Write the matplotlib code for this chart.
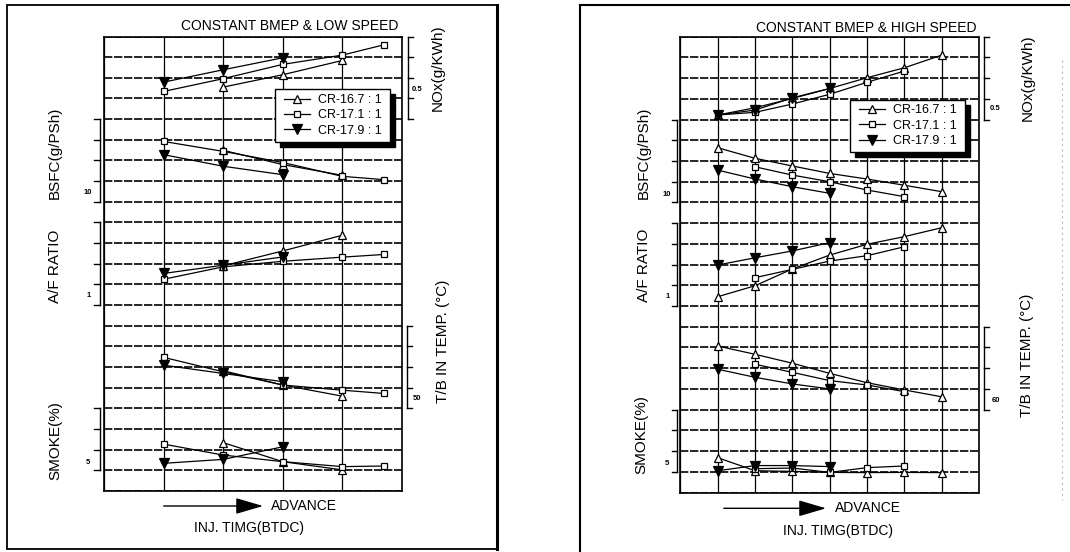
import matplotlib
matplotlib.use("Agg")
import matplotlib.pyplot as plt
import matplotlib.transforms as mtransforms
from matplotlib.lines import Line2D
from matplotlib.patches import Rectangle, FancyArrowPatch

plt.rcParams['font.family'] = ['Liberation Sans', 'DejaVu Sans']

# series names
cr_names = ['CR-16.7 : 1', 'CR-17.1 : 1', 'CR-17.9 : 1']

# ---- low speed panel (values in chart divisions) ----
low_x167 = [2, 3, 4]
low_x171 = [1, 2, 3, 4, 4.7]
low_x179 = [1, 2, 3]

low_nox167 = [19.55, 20.15, 20.84]
low_nox171 = [19.34, 19.96, 20.65, 21.10, 21.60]
low_nox179 = [19.79, 20.39, 20.97]

low_bsfc167 = [16.49, 15.80, 15.28]
low_bsfc171 = [16.92, 16.44, 15.90, 15.23, 15.07]
low_bsfc179 = [16.28, 15.72, 15.31]

low_af167 = [10.90, 11.62, 12.38]
low_af171 = [10.25, 10.85, 11.12, 11.32, 11.45]
low_af179 = [10.53, 10.93, 11.33]

low_tb167 = [5.82, 5.13, 4.59]
low_tb171 = [6.47, 5.77, 5.13, 4.88, 4.72]
low_tb179 = [6.09, 5.69, 5.29]

low_smk167 = [2.34, 1.42, 1.02]
low_smk171 = [2.27, 1.74, 1.42, 1.18, 1.21]
low_smk179 = [1.34, 1.53, 2.14]

# ---- high speed panel ----
high_x167 = [1, 2, 3, 4, 5, 6, 7]
high_x171 = [2, 3, 4, 5, 6]
high_x171_nox = [1, 2, 3, 4, 5, 6]
high_x179 = [1, 2, 3, 4]

high_nox167 = [18.22, 18.57, 19.02, 19.50, 20.02, 20.50, 21.11]
high_nox171 = [18.22, 18.35, 18.75, 19.22, 19.80, 20.34]
high_nox179 = [18.22, 18.46, 19.05, 19.50]

high_bsfc167 = [16.64, 16.13, 15.76, 15.40, 15.13, 14.83, 14.52]
high_bsfc171 = [15.72, 15.32, 15.00, 14.60, 14.28]
high_bsfc179 = [15.56, 15.13, 14.76, 14.44]

high_af167 = [9.45, 9.98, 10.79, 11.46, 11.98, 12.35, 12.78]
high_af171 = [10.37, 10.77, 11.17, 11.43, 11.86]
high_af179 = [10.98, 11.33, 11.66, 12.06]

high_tb167 = [7.07, 6.67, 6.24, 5.75, 5.30, 4.95, 4.62]
high_tb171 = [6.19, 5.80, 5.40, 5.19, 4.87]
high_tb179 = [5.95, 5.56, 5.24, 5.00]

high_smk167 = [1.68, 1.05, 1.02, 0.97, 0.96, 0.97, 0.96]
high_smk171 = [1.15, 1.18, 0.97, 1.20, 1.28]
high_smk179 = [1.05, 1.30, 1.30, 1.25]

W, H = 1070, 552
fig = plt.figure(figsize=(W / 100, H / 100), dpi=100)
fig.patch.set_facecolor('white')


def fx(x):
    return x / W


def fy(y):
    return 1 - y / H


styles = {
    cr_names[0]: dict(marker='^', mfc='white', ms=5.5),
    cr_names[1]: dict(marker='s', mfc='white', ms=4.5),
    cr_names[2]: dict(marker='v', mfc='black', ms=6.5),
}

dash = (0, (5, 1.0))


def make_panel(left, right, top, bottom, nx):
    ax = fig.add_axes([fx(left), fy(bottom), (right - left) / W, (bottom - top) / H])
    ax.set_xlim(0, nx)
    ax.set_ylim(0, 22)
    ax.set_xticks(range(nx + 1))
    ax.set_yticks(range(23))
    ax.tick_params(length=0, labelbottom=False, labelleft=False)
    ax.grid(axis='y', color='black', lw=1.2, ls=dash)
    ax.grid(axis='x', color='black', lw=0.9, ls='-')
    for s in ax.spines.values():
        s.set_linestyle(dash)
        s.set_linewidth(1.2)
    ax.set_axisbelow(True)
    return ax


def draw_series(ax, groups):
    for xs, ys in groups:
        for name, x, y in zip(cr_names, xs, ys):
            ax.plot(x, y, color='black', lw=0.9, mec='black', mew=0.9,
                    clip_on=False, zorder=3, label=name, **styles[name])


def bracket(ax, side, lo, hi, label, label_y, gap, tick, lab_off):
    wpx = ax.get_position().width * W
    trans = mtransforms.blended_transform_factory(ax.transAxes, ax.transData)
    if side == 'left':
        x0 = -gap / wpx
        x1 = x0 - tick / wpx
        xl = x0 - lab_off / wpx
    else:
        x0 = 1 + gap / wpx
        x1 = x0 + tick / wpx
        xl = x0 + lab_off / wpx
    kw = dict(transform=trans, clip_on=False, color='black', lw=1.0)
    ax.plot([x0, x0], [lo, hi], **kw)
    for k in range(lo, hi + 1):
        ax.plot([x0, x1], [k, k], **kw)
    ax.text(xl, label_y, label, transform=trans, ha='center', va='center',
            fontsize=5.5, fontweight='bold')


def legend_box(ax, x, y):
    lines = ax.get_lines()[:3]
    leg = ax.legend(lines, cr_names, loc='upper left', bbox_to_anchor=(fx(x), fy(y)),
                    bbox_transform=fig.transFigure, frameon=False, handlelength=2.1,
                    handletextpad=0.6, labelspacing=0.26, borderpad=0.39,
                    borderaxespad=0, fontsize=9)
    return leg


def arrow(x0, x1, y):
    fig.add_artist(FancyArrowPatch(
        (fx(x0), fy(y)), (fx(x1), fy(y)), transform=fig.transFigure,
        arrowstyle='-|>,head_length=1.7,head_width=0.5', mutation_scale=10,
        color='black', lw=1.0, shrinkA=0, shrinkB=0))


def vlabel(x, y, s, size=11):
    fig.text(fx(x), fy(y), s, rotation=90, ha='center', va='center', fontsize=size)


# ---- low speed ----
ax1 = make_panel(104, 402, 36.5, 491, 5)
draw_series(ax1, [
    ([low_x167, low_x171, low_x179], [low_nox167, low_nox171, low_nox179]),
    ([low_x167, low_x171, low_x179], [low_bsfc167, low_bsfc171, low_bsfc179]),
    ([low_x167, low_x171, low_x179], [low_af167, low_af171, low_af179]),
    ([low_x167, low_x171, low_x179], [low_tb167, low_tb171, low_tb179]),
    ([low_x167, low_x171, low_x179], [low_smk167, low_smk171, low_smk179]),
])
bracket(ax1, 'right', 18, 22, '0.5', 19.45, 5.5, 5, 10)
bracket(ax1, 'left', 14, 18, '10', 14.47, 4.5, 6, 11.5)
bracket(ax1, 'left', 9, 13, '1', 9.46, 4.5, 6, 11)
bracket(ax1, 'right', 4, 8, '50', 4.46, 5.0, 5, 10)
bracket(ax1, 'left', 1, 4, '5', 1.37, 4.5, 6, 11.5)
leg1 = legend_box(ax1, 279, 89.3)

fig.text(fx(398), fy(26), 'CONSTANT BMEP & LOW SPEED', ha='right', va='center', fontsize=10)
vlabel(438, 67.5, 'NOx(g/KWh)')
vlabel(55, 153, 'BSFC(g/PSh)')
vlabel(55, 266, 'A/F RATIO')
vlabel(443, 341, 'T/B IN TEMP. (°C)')
vlabel(55, 441, 'SMOKE(%)')
arrow(163.7, 263, 506)
fig.text(fx(271), fy(506), 'ADVANCE', ha='left', va='center', fontsize=10)
fig.text(fx(249), fy(528), 'INJ. TIMG(BTDC)', ha='center', va='center', fontsize=10)

# ---- high speed ----
ax2 = make_panel(680.4, 979, 36.7, 492.5, 8)
draw_series(ax2, [
    ([high_x167, high_x171_nox, high_x179], [high_nox167, high_nox171, high_nox179]),
    ([high_x167, high_x171, high_x179], [high_bsfc167, high_bsfc171, high_bsfc179]),
    ([high_x167, high_x171, high_x179], [high_af167, high_af171, high_af179]),
    ([high_x167, high_x171, high_x179], [high_tb167, high_tb171, high_tb179]),
    ([high_x167, high_x171, high_x179], [high_smk167, high_smk171, high_smk179]),
])
bracket(ax2, 'right', 18, 22, '0.5', 18.54, 4.5, 5, 12)
bracket(ax2, 'left', 14, 18, '10', 14.39, 3.5, 5, 10)
bracket(ax2, 'left', 9, 13, '1', 9.45, 3.5, 5, 9.5)
bracket(ax2, 'right', 4, 8, '60', 4.45, 4.5, 5, 12)
bracket(ax2, 'left', 1, 4, '5', 1.38, 3.5, 5, 10)
leg2 = legend_box(ax2, 854, 99.5)

fig.text(fx(976.5), fy(28.3), 'CONSTANT BMEP & HIGH SPEED', ha='right', va='center', fontsize=10)
vlabel(1028, 78, 'NOx(g/KWh)')
vlabel(644, 153, 'BSFC(g/PSh)')
vlabel(644, 265, 'A/F RATIO')
vlabel(1027, 355, 'T/B IN TEMP. (°C)')
vlabel(641, 435, 'SMOKE(%)')
arrow(723.8, 826, 508.3)
fig.text(fx(834.6), fy(508.3), 'ADVANCE', ha='left', va='center', fontsize=10)
fig.text(fx(838), fy(531), 'INJ. TIMG(BTDC)', ha='center', va='center', fontsize=10)

# outer frames
fig.add_artist(Rectangle((fx(7), fy(549)), (497 - 7) / W, (549 - 5) / H, fill=False,
                         lw=1.3, ec='black', transform=fig.transFigure))
fig.add_artist(Line2D([fx(497), fx(497)], [fy(5), fy(549)], lw=2.2, color='black',
                      transform=fig.transFigure))
fig.add_artist(Line2D([fx(580), fx(580)], [fy(5), fy(552)], lw=1.5, color='black',
                      transform=fig.transFigure))
fig.add_artist(Line2D([fx(580), fx(1070)], [fy(5), fy(5)], lw=1.5, color='black',
                      transform=fig.transFigure))
fig.add_artist(Line2D([fx(1062), fx(1062)], [fy(60), fy(500)], lw=0.8, color='#bbbbbb',
                      ls=(0, (2, 3)), transform=fig.transFigure))

# legend frame, widened sideways, with a heavy drop shadow
fig.canvas.draw()
ident = mtransforms.IdentityTransform()
for ax, leg in [(ax1, leg1), (ax2, leg2)]:
    bb = leg.get_window_extent()
    padx = 4
    x0, w, h = bb.x0 - padx, bb.width + 2 * padx, bb.height
    z = leg.get_zorder()
    ax.add_artist(Rectangle((x0 + 5, bb.y0 - 5), w, h, transform=ident, fc='black',
                            ec='black', zorder=z - 0.2, clip_on=False))
    ax.add_artist(Rectangle((x0, bb.y0), w, h, transform=ident, fc='white',
                            ec='black', lw=1.0, zorder=z - 0.1, clip_on=False))

fig.savefig('out.png', dpi=100, facecolor='white')
